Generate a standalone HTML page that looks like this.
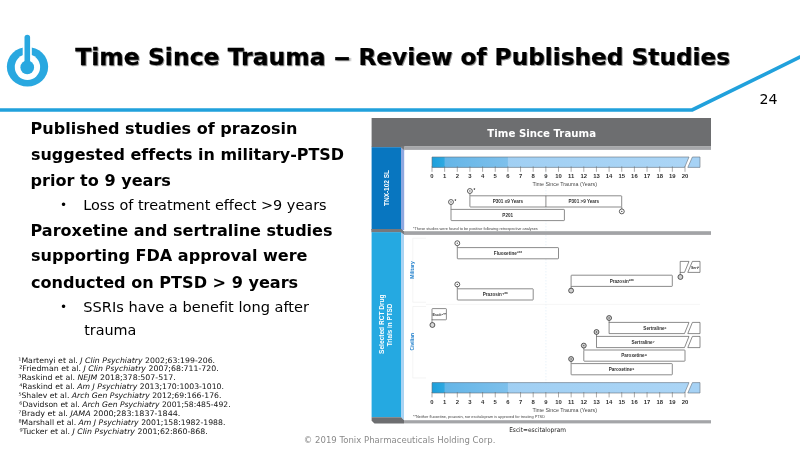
<!DOCTYPE html>
<html lang="en"><head><meta charset="utf-8"><title>Time Since Trauma – Review of Published Studies</title>
<style>html,body{margin:0;padding:0;background:#fff;overflow:hidden}svg{display:block}text{font-variant-ligatures:none;font-kerning:normal}</style></head><body>
<svg width="800" height="450" viewBox="0 0 800 450">
<defs><linearGradient id="g1"><stop offset="0" stop-color="#1C9FDB"/><stop offset="1" stop-color="#2FA9E1"/></linearGradient><linearGradient id="g2"><stop offset="0" stop-color="#5FB3E6"/><stop offset="1" stop-color="#7DC0EC"/></linearGradient><linearGradient id="g3"><stop offset="0" stop-color="#9CCDF2"/><stop offset="1" stop-color="#ABD5F6"/></linearGradient><filter id="sh" x="-5%" y="-20%" width="110%" height="150%"><feDropShadow dx="0.9" dy="0.9" stdDeviation="0.7" flood-color="#000" flood-opacity="0.45"/></filter></defs>
<rect width="800" height="450" fill="#fff"/>
<polyline points="-5,110 692.2,110 820,47.2" fill="none" stroke="#21A1DC" stroke-width="3.7" stroke-linejoin="miter"/>
<g>
<ellipse cx="27.5" cy="66.7" rx="20.65" ry="19.7" fill="#29A8E0"/>
<ellipse cx="27.45" cy="67.1" rx="12.65" ry="12.9" fill="#fff"/>
<rect x="22.7" y="30" width="9.1" height="30" fill="#fff"/>
<line x1="27.3" y1="37.6" x2="27.3" y2="62" stroke="#29A8E0" stroke-width="5.6" stroke-linecap="round"/>
<circle cx="27.25" cy="67.4" r="6.85" fill="#29A8E0"/>
</g>
<line x1="545.9" y1="157" x2="545.9" y2="393" stroke="#d5e6f5" stroke-width="0.5" stroke-dasharray="1.5,1.5"/>
<rect x="371.6" y="118" width="339.4" height="28.4" fill="#6D6E70"/>
<rect x="371.6" y="146" width="32.6" height="1.2" fill="#6D6E70"/>
<rect x="404.2" y="146.2" width="306.8" height="3.7" fill="#A6A7AA"/>
<rect x="371.6" y="147.2" width="29.4" height="83" fill="#0876C0"/>
<polygon points="401,147.2 404.2,150.4 404.2,230 401,230" fill="#8FA8E0"/>
<polygon points="400.8,146 404.2,146 404.2,150.4 400.8,147.2" fill="#77787A"/>
<polygon points="371.6,229 401,229 404,231.5 711,231.5 711,234.6 403,234.6 400,232.2 371.6,232.2" fill="#77787B"/>
<rect x="404" y="231.8" width="307" height="2.8" fill="#A2A3A6"/>
<polygon points="371.6,229 401,229 404,231.5 404,234.6 401,232.2 371.6,232.2" fill="#77787B"/>
<rect x="371.6" y="232.2" width="29.4" height="185" fill="#25A9E1"/>
<polygon points="401,232.2 404,234.6 404,420.2 401,417.2" fill="#A9D3F3"/>
<polygon points="371.6,417.2 401,417.2 404,420.2 404,423.5 374.5,423.5 371.6,420.8" fill="#6D6E70"/>
<rect x="404" y="420.2" width="307" height="3.2" fill="#A4A5A8"/>
<path d="M426,238.2 H412.8 V302.2 H426" fill="none" stroke="#ececec" stroke-width="0.6"/>
<path d="M426,306.5 H412.8 V378 H426" fill="none" stroke="#ececec" stroke-width="0.6"/>
<line x1="426" y1="304.4" x2="700" y2="304.4" stroke="#eeeeee" stroke-width="0.6"/>
<polygon points="432.0,157.0 689.0,157.0 684.6,167.4 432.0,167.4" fill="url(#g3)"/><rect x="432.0" y="157.0" width="75.9" height="10.4" fill="url(#g2)"/><rect x="432.0" y="157.0" width="12.6" height="10.4" fill="url(#g1)"/><polygon points="692.4,157.0 700,157.0 700,167.4 687.8,167.4" fill="#A6D2F5"/><path d="M432.0,157.0 H689 L684.6,167.4 H432.0 Z M692.4,157.0 H700 V167.4 H687.8 Z" fill="none" stroke="#66717a" stroke-width="0.6"/><line x1="432.00" y1="166.4" x2="432.00" y2="171.8" stroke="#707070" stroke-width="0.6"/><line x1="444.65" y1="166.4" x2="444.65" y2="171.8" stroke="#707070" stroke-width="0.6"/><line x1="457.30" y1="166.4" x2="457.30" y2="171.8" stroke="#707070" stroke-width="0.6"/><line x1="469.95" y1="166.4" x2="469.95" y2="171.8" stroke="#707070" stroke-width="0.6"/><line x1="482.60" y1="166.4" x2="482.60" y2="171.8" stroke="#707070" stroke-width="0.6"/><line x1="495.25" y1="166.4" x2="495.25" y2="171.8" stroke="#707070" stroke-width="0.6"/><line x1="507.90" y1="166.4" x2="507.90" y2="171.8" stroke="#707070" stroke-width="0.6"/><line x1="520.55" y1="166.4" x2="520.55" y2="171.8" stroke="#707070" stroke-width="0.6"/><line x1="533.20" y1="166.4" x2="533.20" y2="171.8" stroke="#707070" stroke-width="0.6"/><line x1="545.85" y1="166.4" x2="545.85" y2="171.8" stroke="#707070" stroke-width="0.6"/><line x1="558.50" y1="166.4" x2="558.50" y2="171.8" stroke="#707070" stroke-width="0.6"/><line x1="571.15" y1="166.4" x2="571.15" y2="171.8" stroke="#707070" stroke-width="0.6"/><line x1="583.80" y1="166.4" x2="583.80" y2="171.8" stroke="#707070" stroke-width="0.6"/><line x1="596.45" y1="166.4" x2="596.45" y2="171.8" stroke="#707070" stroke-width="0.6"/><line x1="609.10" y1="166.4" x2="609.10" y2="171.8" stroke="#707070" stroke-width="0.6"/><line x1="621.75" y1="166.4" x2="621.75" y2="171.8" stroke="#707070" stroke-width="0.6"/><line x1="634.40" y1="166.4" x2="634.40" y2="171.8" stroke="#707070" stroke-width="0.6"/><line x1="647.05" y1="166.4" x2="647.05" y2="171.8" stroke="#707070" stroke-width="0.6"/><line x1="659.70" y1="166.4" x2="659.70" y2="171.8" stroke="#707070" stroke-width="0.6"/><line x1="672.35" y1="166.4" x2="672.35" y2="171.8" stroke="#707070" stroke-width="0.6"/><line x1="685.00" y1="166.4" x2="685.00" y2="171.8" stroke="#707070" stroke-width="0.6"/>
<polygon points="432.0,382.6 689.0,382.6 684.6,393.0 432.0,393.0" fill="url(#g3)"/><rect x="432.0" y="382.6" width="75.9" height="10.4" fill="url(#g2)"/><rect x="432.0" y="382.6" width="12.6" height="10.4" fill="url(#g1)"/><polygon points="692.4,382.6 700,382.6 700,393.0 687.8,393.0" fill="#A6D2F5"/><path d="M432.0,382.6 H689 L684.6,393.0 H432.0 Z M692.4,382.6 H700 V393.0 H687.8 Z" fill="none" stroke="#66717a" stroke-width="0.6"/><line x1="432.00" y1="392.0" x2="432.00" y2="397.4" stroke="#707070" stroke-width="0.6"/><line x1="444.65" y1="392.0" x2="444.65" y2="397.4" stroke="#707070" stroke-width="0.6"/><line x1="457.30" y1="392.0" x2="457.30" y2="397.4" stroke="#707070" stroke-width="0.6"/><line x1="469.95" y1="392.0" x2="469.95" y2="397.4" stroke="#707070" stroke-width="0.6"/><line x1="482.60" y1="392.0" x2="482.60" y2="397.4" stroke="#707070" stroke-width="0.6"/><line x1="495.25" y1="392.0" x2="495.25" y2="397.4" stroke="#707070" stroke-width="0.6"/><line x1="507.90" y1="392.0" x2="507.90" y2="397.4" stroke="#707070" stroke-width="0.6"/><line x1="520.55" y1="392.0" x2="520.55" y2="397.4" stroke="#707070" stroke-width="0.6"/><line x1="533.20" y1="392.0" x2="533.20" y2="397.4" stroke="#707070" stroke-width="0.6"/><line x1="545.85" y1="392.0" x2="545.85" y2="397.4" stroke="#707070" stroke-width="0.6"/><line x1="558.50" y1="392.0" x2="558.50" y2="397.4" stroke="#707070" stroke-width="0.6"/><line x1="571.15" y1="392.0" x2="571.15" y2="397.4" stroke="#707070" stroke-width="0.6"/><line x1="583.80" y1="392.0" x2="583.80" y2="397.4" stroke="#707070" stroke-width="0.6"/><line x1="596.45" y1="392.0" x2="596.45" y2="397.4" stroke="#707070" stroke-width="0.6"/><line x1="609.10" y1="392.0" x2="609.10" y2="397.4" stroke="#707070" stroke-width="0.6"/><line x1="621.75" y1="392.0" x2="621.75" y2="397.4" stroke="#707070" stroke-width="0.6"/><line x1="634.40" y1="392.0" x2="634.40" y2="397.4" stroke="#707070" stroke-width="0.6"/><line x1="647.05" y1="392.0" x2="647.05" y2="397.4" stroke="#707070" stroke-width="0.6"/><line x1="659.70" y1="392.0" x2="659.70" y2="397.4" stroke="#707070" stroke-width="0.6"/><line x1="672.35" y1="392.0" x2="672.35" y2="397.4" stroke="#707070" stroke-width="0.6"/><line x1="685.00" y1="392.0" x2="685.00" y2="397.4" stroke="#707070" stroke-width="0.6"/>
<line x1="469.9" y1="193.0" x2="469.9" y2="196.0" stroke="#5a5a5a" stroke-width="0.7"/>
<rect x="469.9" y="195.8" width="151.8" height="11.2" rx="0.6" fill="#fff" stroke="#5a5a5a" stroke-width="0.7"/>
<line x1="545.9" y1="195.8" x2="545.9" y2="207" stroke="#5a5a5a" stroke-width="0.7"/>
<circle cx="469.9" cy="191.0" r="2.45" fill="#ffffff" stroke="#2a2a2a" stroke-width="0.75"/>
<circle cx="469.9" cy="191.0" r="0.65" fill="#444"/>
<line x1="451.0" y1="204.0" x2="451.0" y2="210.0" stroke="#5a5a5a" stroke-width="0.7"/>
<rect x="451.0" y="209.4" width="113.4" height="11.2" rx="0.6" fill="#fff" stroke="#5a5a5a" stroke-width="0.7"/>
<circle cx="451.0" cy="202.0" r="2.45" fill="#ffffff" stroke="#2a2a2a" stroke-width="0.75"/>
<circle cx="451.0" cy="202.0" r="0.65" fill="#444"/>
<line x1="621.8" y1="207.0" x2="621.8" y2="209.5" stroke="#5a5a5a" stroke-width="0.7"/>
<circle cx="621.8" cy="211.4" r="2.45" fill="#ffffff" stroke="#2a2a2a" stroke-width="0.75"/>
<circle cx="621.8" cy="211.4" r="0.65" fill="#444"/>
<line x1="457.3" y1="245.0" x2="457.3" y2="248.0" stroke="#5a5a5a" stroke-width="0.7"/>
<rect x="457.3" y="247.6" width="101.2" height="11.2" rx="0.6" fill="#fff" stroke="#5a5a5a" stroke-width="0.7"/>
<circle cx="457.3" cy="243.2" r="2.45" fill="#ffffff" stroke="#2a2a2a" stroke-width="0.75"/>
<circle cx="457.3" cy="243.2" r="0.65" fill="#444"/>
<line x1="457.3" y1="286.0" x2="457.3" y2="289.0" stroke="#5a5a5a" stroke-width="0.7"/>
<rect x="457.3" y="288.8" width="75.9" height="11.2" rx="0.6" fill="#fff" stroke="#5a5a5a" stroke-width="0.7"/>
<circle cx="457.3" cy="284.4" r="2.45" fill="#ffffff" stroke="#2a2a2a" stroke-width="0.75"/>
<circle cx="457.3" cy="284.4" r="0.65" fill="#444"/>
<rect x="571.1" y="275.2" width="101.2" height="11.2" rx="0.6" fill="#fff" stroke="#5a5a5a" stroke-width="0.7"/>
<line x1="571.1" y1="286.0" x2="571.1" y2="289.0" stroke="#5a5a5a" stroke-width="0.7"/>
<circle cx="571.1" cy="290.6" r="2.45" fill="#d0d0d0" stroke="#2a2a2a" stroke-width="0.75"/>
<path d="M680.2,261.4 H689 L684.5,272.4 H680.2 Z M692.4,261.4 H700 V272.4 H687.8 Z" fill="#fff" stroke="#5a5a5a" stroke-width="0.7"/>
<line x1="680.2" y1="272.0" x2="680.2" y2="275.0" stroke="#5a5a5a" stroke-width="0.7"/>
<circle cx="680.4" cy="277.0" r="2.45" fill="#d0d0d0" stroke="#2a2a2a" stroke-width="0.75"/>
<rect x="432.0" y="308.6" width="14.4" height="11.2" rx="0.6" fill="#fff" stroke="#5a5a5a" stroke-width="0.7"/>
<line x1="432.0" y1="319.0" x2="432.0" y2="323.0" stroke="#5a5a5a" stroke-width="0.7"/>
<circle cx="432.4" cy="325.0" r="2.45" fill="#d9d9d9" stroke="#2a2a2a" stroke-width="0.75"/>
<line x1="609.1" y1="320.0" x2="609.1" y2="323.0" stroke="#5a5a5a" stroke-width="0.7"/>
<path d="M609.1,322.4 H689 L684.5,333.6 H609.1 Z M692.4,322.4 H700 V333.6 H687.8 Z" fill="#fff" stroke="#5a5a5a" stroke-width="0.7"/>
<circle cx="609.1" cy="318.0" r="2.45" fill="#d0d0d0" stroke="#2a2a2a" stroke-width="0.75"/>
<circle cx="609.1" cy="318.0" r="0.65" fill="#444"/>
<line x1="596.5" y1="334.0" x2="596.5" y2="337.0" stroke="#5a5a5a" stroke-width="0.7"/>
<path d="M596.5,336.4 H689 L684.5,347.6 H596.5 Z M692.4,336.4 H700 V347.6 H687.8 Z" fill="#fff" stroke="#5a5a5a" stroke-width="0.7"/>
<circle cx="596.5" cy="332.0" r="2.45" fill="#d0d0d0" stroke="#2a2a2a" stroke-width="0.75"/>
<circle cx="596.5" cy="332.0" r="0.65" fill="#444"/>
<line x1="583.8" y1="347.0" x2="583.8" y2="350.0" stroke="#5a5a5a" stroke-width="0.7"/>
<rect x="583.8" y="350.0" width="101.2" height="11.2" rx="0.6" fill="#fff" stroke="#5a5a5a" stroke-width="0.7"/>
<circle cx="583.8" cy="345.6" r="2.45" fill="#d0d0d0" stroke="#2a2a2a" stroke-width="0.75"/>
<circle cx="583.8" cy="345.6" r="0.65" fill="#444"/>
<line x1="571.1" y1="361.0" x2="571.1" y2="364.0" stroke="#5a5a5a" stroke-width="0.7"/>
<rect x="571.1" y="363.6" width="101.2" height="11.2" rx="0.6" fill="#fff" stroke="#5a5a5a" stroke-width="0.7"/>
<circle cx="571.1" cy="359.0" r="2.45" fill="#d0d0d0" stroke="#2a2a2a" stroke-width="0.75"/>
<circle cx="571.1" cy="359.0" r="0.65" fill="#444"/>
<text id="t0" transform="translate(75.23,64.50) scale(1.0404,1)" font-family='"DejaVu Sans", "Liberation Sans", sans-serif' font-size="22.6" font-weight="bold" fill="#000" text-anchor="start" filter="url(#sh)" stroke="#000" stroke-width="0.25">Time Since Trauma</text>
<text id="t1" transform="translate(333.60,64.50) scale(1.5100,1)" font-family='"DejaVu Sans", "Liberation Sans", sans-serif' font-size="22.6" font-weight="bold" fill="#000" text-anchor="start" filter="url(#sh)" stroke="#000" stroke-width="0.25">–</text>
<text id="t2" transform="translate(358.43,64.50) scale(1.0286,1)" font-family='"DejaVu Sans", "Liberation Sans", sans-serif' font-size="22.6" font-weight="bold" fill="#000" text-anchor="start" filter="url(#sh)" stroke="#000" stroke-width="0.25">Review of Published Studies</text>
<text id="t3" transform="translate(759.52,104.40) scale(1.0108,1)" font-family='"DejaVu Sans", "Liberation Sans", sans-serif' font-size="14" font-weight="normal" fill="#000" text-anchor="start" >24</text>
<text id="t4" transform="translate(30.52,134.20) scale(1.0491,1)" font-family='"DejaVu Sans", "Liberation Sans", sans-serif' font-size="15.3" font-weight="bold" fill="#000" text-anchor="start" >Published studies of prazosin</text>
<text id="t5" transform="translate(30.99,160.20) scale(1.0437,1)" font-family='"DejaVu Sans", "Liberation Sans", sans-serif' font-size="15.3" font-weight="bold" fill="#000" text-anchor="start" >suggested effects in military-PTSD</text>
<text id="t6" transform="translate(30.52,186.10) scale(1.0519,1)" font-family='"DejaVu Sans", "Liberation Sans", sans-serif' font-size="15.3" font-weight="bold" fill="#000" text-anchor="start" >prior to 9 years</text>
<text id="t7" transform="translate(59.96,209.00)" font-family='"DejaVu Sans", "Liberation Sans", sans-serif' font-size="12" font-weight="normal" fill="#000" text-anchor="start" >•</text>
<text id="t8" transform="translate(83.13,210.10) scale(1.0041,1)" font-family='"DejaVu Sans", "Liberation Sans", sans-serif' font-size="14.4" font-weight="normal" fill="#000" text-anchor="start" >Loss of treatment effect &gt;9 years</text>
<text id="t9" transform="translate(30.52,235.60) scale(1.0485,1)" font-family='"DejaVu Sans", "Liberation Sans", sans-serif' font-size="15.3" font-weight="bold" fill="#000" text-anchor="start" >Paroxetine and sertraline studies</text>
<text id="t10" transform="translate(30.99,261.30) scale(1.0501,1)" font-family='"DejaVu Sans", "Liberation Sans", sans-serif' font-size="15.3" font-weight="bold" fill="#000" text-anchor="start" >supporting FDA approval were</text>
<text id="t11" transform="translate(30.99,287.50) scale(1.0521,1)" font-family='"DejaVu Sans", "Liberation Sans", sans-serif' font-size="15.3" font-weight="bold" fill="#000" text-anchor="start" >conducted on PTSD &gt; 9 years</text>
<text id="t12" transform="translate(59.96,311.00)" font-family='"DejaVu Sans", "Liberation Sans", sans-serif' font-size="12" font-weight="normal" fill="#000" text-anchor="start" >•</text>
<text id="t13" transform="translate(83.27,311.70) scale(1.0137,1)" font-family='"DejaVu Sans", "Liberation Sans", sans-serif' font-size="14.4" font-weight="normal" fill="#000" text-anchor="start" >SSRIs have a benefit long after</text>
<text id="t14" transform="translate(84.15,334.70) scale(0.9973,1)" font-family='"DejaVu Sans", "Liberation Sans", sans-serif' font-size="14.4" font-weight="normal" fill="#000" text-anchor="start" >trauma</text>
<text id="t15" transform="translate(18.27,362.50) scale(1.0261,1)" font-family='"DejaVu Sans", "Liberation Sans", sans-serif' font-size="7.6" font-weight="normal" fill="#111" text-anchor="start" >¹Martenyi et al. <tspan font-style="italic">J Clin Psychiatry</tspan> 2002;63:199-206.</text>
<text id="t16" transform="translate(19.14,371.44) scale(1.0289,1)" font-family='"DejaVu Sans", "Liberation Sans", sans-serif' font-size="7.6" font-weight="normal" fill="#111" text-anchor="start" >²Friedman et al. <tspan font-style="italic">J Clin Psychiatry</tspan> 2007;68:711-720.</text>
<text id="t17" transform="translate(18.34,380.38) scale(1.0371,1)" font-family='"DejaVu Sans", "Liberation Sans", sans-serif' font-size="7.6" font-weight="normal" fill="#111" text-anchor="start" >³Raskind et al. <tspan font-style="italic">NEJM</tspan> 2018;378:507-517.</text>
<text id="t18" transform="translate(19.25,389.32) scale(1.0186,1)" font-family='"DejaVu Sans", "Liberation Sans", sans-serif' font-size="7.6" font-weight="normal" fill="#111" text-anchor="start" >⁴Raskind et al. <tspan font-style="italic">Am J Psychiatry</tspan> 2013;170:1003-1010.</text>
<text id="t19" transform="translate(18.40,398.26) scale(1.0152,1)" font-family='"DejaVu Sans", "Liberation Sans", sans-serif' font-size="7.6" font-weight="normal" fill="#111" text-anchor="start" >⁵Shalev et al. <tspan font-style="italic">Arch Gen Psychiatry</tspan> 2012;69:166-176.</text>
<text id="t20" transform="translate(19.34,407.20) scale(1.0078,1)" font-family='"DejaVu Sans", "Liberation Sans", sans-serif' font-size="7.6" font-weight="normal" fill="#111" text-anchor="start" >⁶Davidson et al. <tspan font-style="italic">Arch Gen Psychiatry</tspan> 2001;58:485-492.</text>
<text id="t21" transform="translate(18.36,416.14) scale(1.0552,1)" font-family='"DejaVu Sans", "Liberation Sans", sans-serif' font-size="7.6" font-weight="normal" fill="#111" text-anchor="start" >⁷Brady et al. <tspan font-style="italic">JAMA</tspan> 2000;283:1837-1844.</text>
<text id="t22" transform="translate(18.41,425.08) scale(1.0196,1)" font-family='"DejaVu Sans", "Liberation Sans", sans-serif' font-size="7.6" font-weight="normal" fill="#111" text-anchor="start" >⁸Marshall et al. <tspan font-style="italic">Am J Psychiatry</tspan> 2001;158:1982-1988.</text>
<text id="t23" transform="translate(19.42,434.02) scale(1.0298,1)" font-family='"DejaVu Sans", "Liberation Sans", sans-serif' font-size="7.6" font-weight="normal" fill="#111" text-anchor="start" >⁹Tucker et al. <tspan font-style="italic">J Clin Psychiatry</tspan> 2001;62:860-868.</text>
<text id="t24" transform="translate(303.76,442.80) scale(1.0167,1)" font-family='"DejaVu Sans", "Liberation Sans", sans-serif' font-size="8.4" font-weight="normal" fill="#8a8a8a" text-anchor="start" >© 2019 Tonix Pharmaceuticals Holding Corp.</text>
<text id="t25" transform="translate(509.15,432.40) scale(0.9170,1)" font-family='"DejaVu Sans", "Liberation Sans", sans-serif' font-size="6.4" font-weight="normal" fill="#1a1a1a" text-anchor="start" >Escit=escitalopram</text>
<text id="t26" transform="translate(432.00,177.70)" font-family='"Liberation Sans", "DejaVu Sans", sans-serif' font-size="5.9" font-weight="bold" fill="#303030" text-anchor="middle" >0</text>
<text id="t27" transform="translate(444.65,177.70)" font-family='"Liberation Sans", "DejaVu Sans", sans-serif' font-size="5.9" font-weight="bold" fill="#303030" text-anchor="middle" >1</text>
<text id="t28" transform="translate(457.30,177.70)" font-family='"Liberation Sans", "DejaVu Sans", sans-serif' font-size="5.9" font-weight="bold" fill="#303030" text-anchor="middle" >2</text>
<text id="t29" transform="translate(469.95,177.70)" font-family='"Liberation Sans", "DejaVu Sans", sans-serif' font-size="5.9" font-weight="bold" fill="#303030" text-anchor="middle" >3</text>
<text id="t30" transform="translate(482.60,177.70)" font-family='"Liberation Sans", "DejaVu Sans", sans-serif' font-size="5.9" font-weight="bold" fill="#303030" text-anchor="middle" >4</text>
<text id="t31" transform="translate(495.25,177.70)" font-family='"Liberation Sans", "DejaVu Sans", sans-serif' font-size="5.9" font-weight="bold" fill="#303030" text-anchor="middle" >5</text>
<text id="t32" transform="translate(507.90,177.70)" font-family='"Liberation Sans", "DejaVu Sans", sans-serif' font-size="5.9" font-weight="bold" fill="#303030" text-anchor="middle" >6</text>
<text id="t33" transform="translate(520.55,177.70)" font-family='"Liberation Sans", "DejaVu Sans", sans-serif' font-size="5.9" font-weight="bold" fill="#303030" text-anchor="middle" >7</text>
<text id="t34" transform="translate(533.20,177.70)" font-family='"Liberation Sans", "DejaVu Sans", sans-serif' font-size="5.9" font-weight="bold" fill="#303030" text-anchor="middle" >8</text>
<text id="t35" transform="translate(545.85,177.70)" font-family='"Liberation Sans", "DejaVu Sans", sans-serif' font-size="5.9" font-weight="bold" fill="#303030" text-anchor="middle" >9</text>
<text id="t36" transform="translate(558.50,177.70)" font-family='"Liberation Sans", "DejaVu Sans", sans-serif' font-size="5.9" font-weight="bold" fill="#303030" text-anchor="middle" >10</text>
<text id="t37" transform="translate(571.15,177.70)" font-family='"Liberation Sans", "DejaVu Sans", sans-serif' font-size="5.9" font-weight="bold" fill="#303030" text-anchor="middle" >11</text>
<text id="t38" transform="translate(583.80,177.70)" font-family='"Liberation Sans", "DejaVu Sans", sans-serif' font-size="5.9" font-weight="bold" fill="#303030" text-anchor="middle" >12</text>
<text id="t39" transform="translate(596.45,177.70)" font-family='"Liberation Sans", "DejaVu Sans", sans-serif' font-size="5.9" font-weight="bold" fill="#303030" text-anchor="middle" >13</text>
<text id="t40" transform="translate(609.10,177.70)" font-family='"Liberation Sans", "DejaVu Sans", sans-serif' font-size="5.9" font-weight="bold" fill="#303030" text-anchor="middle" >14</text>
<text id="t41" transform="translate(621.75,177.70)" font-family='"Liberation Sans", "DejaVu Sans", sans-serif' font-size="5.9" font-weight="bold" fill="#303030" text-anchor="middle" >15</text>
<text id="t42" transform="translate(634.40,177.70)" font-family='"Liberation Sans", "DejaVu Sans", sans-serif' font-size="5.9" font-weight="bold" fill="#303030" text-anchor="middle" >16</text>
<text id="t43" transform="translate(647.05,177.70)" font-family='"Liberation Sans", "DejaVu Sans", sans-serif' font-size="5.9" font-weight="bold" fill="#303030" text-anchor="middle" >17</text>
<text id="t44" transform="translate(659.70,177.70)" font-family='"Liberation Sans", "DejaVu Sans", sans-serif' font-size="5.9" font-weight="bold" fill="#303030" text-anchor="middle" >18</text>
<text id="t45" transform="translate(672.35,177.70)" font-family='"Liberation Sans", "DejaVu Sans", sans-serif' font-size="5.9" font-weight="bold" fill="#303030" text-anchor="middle" >19</text>
<text id="t46" transform="translate(685.00,177.70)" font-family='"Liberation Sans", "DejaVu Sans", sans-serif' font-size="5.9" font-weight="bold" fill="#303030" text-anchor="middle" >20</text>
<text id="t47" transform="translate(532.40,185.70) scale(1.0081,1)" font-family='"Liberation Sans", "DejaVu Sans", sans-serif' font-size="5.3" font-weight="normal" fill="#484848" text-anchor="start" >Time Since Trauma (Years)</text>
<text id="t48" transform="translate(432.00,403.70)" font-family='"Liberation Sans", "DejaVu Sans", sans-serif' font-size="5.9" font-weight="bold" fill="#303030" text-anchor="middle" >0</text>
<text id="t49" transform="translate(444.65,403.70)" font-family='"Liberation Sans", "DejaVu Sans", sans-serif' font-size="5.9" font-weight="bold" fill="#303030" text-anchor="middle" >1</text>
<text id="t50" transform="translate(457.30,403.70)" font-family='"Liberation Sans", "DejaVu Sans", sans-serif' font-size="5.9" font-weight="bold" fill="#303030" text-anchor="middle" >2</text>
<text id="t51" transform="translate(469.95,403.70)" font-family='"Liberation Sans", "DejaVu Sans", sans-serif' font-size="5.9" font-weight="bold" fill="#303030" text-anchor="middle" >3</text>
<text id="t52" transform="translate(482.60,403.70)" font-family='"Liberation Sans", "DejaVu Sans", sans-serif' font-size="5.9" font-weight="bold" fill="#303030" text-anchor="middle" >4</text>
<text id="t53" transform="translate(495.25,403.70)" font-family='"Liberation Sans", "DejaVu Sans", sans-serif' font-size="5.9" font-weight="bold" fill="#303030" text-anchor="middle" >5</text>
<text id="t54" transform="translate(507.90,403.70)" font-family='"Liberation Sans", "DejaVu Sans", sans-serif' font-size="5.9" font-weight="bold" fill="#303030" text-anchor="middle" >6</text>
<text id="t55" transform="translate(520.55,403.70)" font-family='"Liberation Sans", "DejaVu Sans", sans-serif' font-size="5.9" font-weight="bold" fill="#303030" text-anchor="middle" >7</text>
<text id="t56" transform="translate(533.20,403.70)" font-family='"Liberation Sans", "DejaVu Sans", sans-serif' font-size="5.9" font-weight="bold" fill="#303030" text-anchor="middle" >8</text>
<text id="t57" transform="translate(545.85,403.70)" font-family='"Liberation Sans", "DejaVu Sans", sans-serif' font-size="5.9" font-weight="bold" fill="#303030" text-anchor="middle" >9</text>
<text id="t58" transform="translate(558.50,403.70)" font-family='"Liberation Sans", "DejaVu Sans", sans-serif' font-size="5.9" font-weight="bold" fill="#303030" text-anchor="middle" >10</text>
<text id="t59" transform="translate(571.15,403.70)" font-family='"Liberation Sans", "DejaVu Sans", sans-serif' font-size="5.9" font-weight="bold" fill="#303030" text-anchor="middle" >11</text>
<text id="t60" transform="translate(583.80,403.70)" font-family='"Liberation Sans", "DejaVu Sans", sans-serif' font-size="5.9" font-weight="bold" fill="#303030" text-anchor="middle" >12</text>
<text id="t61" transform="translate(596.45,403.70)" font-family='"Liberation Sans", "DejaVu Sans", sans-serif' font-size="5.9" font-weight="bold" fill="#303030" text-anchor="middle" >13</text>
<text id="t62" transform="translate(609.10,403.70)" font-family='"Liberation Sans", "DejaVu Sans", sans-serif' font-size="5.9" font-weight="bold" fill="#303030" text-anchor="middle" >14</text>
<text id="t63" transform="translate(621.75,403.70)" font-family='"Liberation Sans", "DejaVu Sans", sans-serif' font-size="5.9" font-weight="bold" fill="#303030" text-anchor="middle" >15</text>
<text id="t64" transform="translate(634.40,403.70)" font-family='"Liberation Sans", "DejaVu Sans", sans-serif' font-size="5.9" font-weight="bold" fill="#303030" text-anchor="middle" >16</text>
<text id="t65" transform="translate(647.05,403.70)" font-family='"Liberation Sans", "DejaVu Sans", sans-serif' font-size="5.9" font-weight="bold" fill="#303030" text-anchor="middle" >17</text>
<text id="t66" transform="translate(659.70,403.70)" font-family='"Liberation Sans", "DejaVu Sans", sans-serif' font-size="5.9" font-weight="bold" fill="#303030" text-anchor="middle" >18</text>
<text id="t67" transform="translate(672.35,403.70)" font-family='"Liberation Sans", "DejaVu Sans", sans-serif' font-size="5.9" font-weight="bold" fill="#303030" text-anchor="middle" >19</text>
<text id="t68" transform="translate(685.00,403.70)" font-family='"Liberation Sans", "DejaVu Sans", sans-serif' font-size="5.9" font-weight="bold" fill="#303030" text-anchor="middle" >20</text>
<text id="t69" transform="translate(532.40,411.50) scale(1.0081,1)" font-family='"Liberation Sans", "DejaVu Sans", sans-serif' font-size="5.3" font-weight="normal" fill="#484848" text-anchor="start" >Time Since Trauma (Years)</text>
<text id="t70" transform="translate(507.90,203.20)" font-family='"Liberation Sans", "DejaVu Sans", sans-serif' font-size="4.6" font-weight="bold" fill="#333" text-anchor="middle" >P301 ≤9 Years</text>
<text id="t71" transform="translate(583.80,203.20)" font-family='"Liberation Sans", "DejaVu Sans", sans-serif' font-size="4.6" font-weight="bold" fill="#333" text-anchor="middle" >P301 &gt;9 Years</text>
<text id="t72" transform="translate(473.55,191.50)" font-family='"Liberation Sans", "DejaVu Sans", sans-serif' font-size="4.5" font-weight="bold" fill="#333" text-anchor="start" >*</text>
<text id="t73" transform="translate(507.69,216.70)" font-family='"Liberation Sans", "DejaVu Sans", sans-serif' font-size="4.6" font-weight="bold" fill="#333" text-anchor="middle" >P201</text>
<text id="t74" transform="translate(454.58,202.50)" font-family='"Liberation Sans", "DejaVu Sans", sans-serif' font-size="4.5" font-weight="bold" fill="#333" text-anchor="start" >*</text>
<text id="t75" transform="translate(413.00,229.90) scale(1.1375,1)" font-family='"Liberation Sans", "DejaVu Sans", sans-serif' font-size="3.4" font-weight="normal" fill="#444" text-anchor="start" >*These studies were found to be positive following retrospective analyses</text>
<text id="t76" transform="translate(507.90,254.90)" font-family='"Liberation Sans", "DejaVu Sans", sans-serif' font-size="4.6" font-weight="bold" fill="#333" text-anchor="middle" >Fluoxetine¹**</text>
<text id="t77" transform="translate(495.25,296.10)" font-family='"Liberation Sans", "DejaVu Sans", sans-serif' font-size="4.6" font-weight="bold" fill="#333" text-anchor="middle" >Prazosin⁴**</text>
<text id="t78" transform="translate(621.75,282.50)" font-family='"Liberation Sans", "DejaVu Sans", sans-serif' font-size="4.6" font-weight="bold" fill="#333" text-anchor="middle" >Prazosin³**</text>
<text id="t79" transform="translate(695.00,268.60)" font-family='"Liberation Sans", "DejaVu Sans", sans-serif' font-size="3.6" font-weight="bold" fill="#333" text-anchor="middle" >Sert²</text>
<text id="t80" transform="translate(439.30,315.70)" font-family='"Liberation Sans", "DejaVu Sans", sans-serif' font-size="3.7" font-weight="bold" fill="#333" text-anchor="middle" >Escit⁵**</text>
<text id="t81" transform="translate(655.00,329.70)" font-family='"Liberation Sans", "DejaVu Sans", sans-serif' font-size="4.6" font-weight="bold" fill="#333" text-anchor="middle" >Sertraline⁶</text>
<text id="t82" transform="translate(643.00,343.70)" font-family='"Liberation Sans", "DejaVu Sans", sans-serif' font-size="4.6" font-weight="bold" fill="#333" text-anchor="middle" >Sertraline⁷</text>
<text id="t83" transform="translate(634.00,357.30)" font-family='"Liberation Sans", "DejaVu Sans", sans-serif' font-size="4.6" font-weight="bold" fill="#333" text-anchor="middle" >Paroxetine⁸</text>
<text id="t84" transform="translate(621.50,370.90)" font-family='"Liberation Sans", "DejaVu Sans", sans-serif' font-size="4.6" font-weight="bold" fill="#333" text-anchor="middle" >Paroxetine⁹</text>
<text id="t85" transform="translate(413.00,417.50) scale(1.1352,1)" font-family='"Liberation Sans", "DejaVu Sans", sans-serif' font-size="3.4" font-weight="normal" fill="#444" text-anchor="start" >**Neither fluoxetine, prazosin, nor escitalopram is approved for treating PTSD</text>
<text id="t86" transform="translate(487.34,136.70) scale(0.9814,1)" font-family='"DejaVu Sans", "Liberation Sans", sans-serif' font-size="10.4" font-weight="bold" fill="#fff" text-anchor="start" >Time Since Trauma</text>
<text id="r0" transform="translate(388.60,188.00) rotate(-90) scale(0.9821,1)" font-family='"Liberation Sans", "DejaVu Sans", sans-serif' font-size="6.6" font-weight="bold" fill="#fff" text-anchor="middle">TNX-102 SL</text>
<text id="r1" transform="translate(384.10,324.20) rotate(-90) scale(0.9548,1)" font-family='"Liberation Sans", "DejaVu Sans", sans-serif' font-size="6.9" font-weight="bold" fill="#fff" text-anchor="middle">Selected RCT Drug</text>
<text id="r2" transform="translate(392.10,325.00) rotate(-90) scale(0.9235,1)" font-family='"Liberation Sans", "DejaVu Sans", sans-serif' font-size="6.9" font-weight="bold" fill="#fff" text-anchor="middle">Trials in PTSD</text>
<text id="r3" transform="translate(414.00,270.00) rotate(-90) scale(1.0478,1)" font-family='"Liberation Sans", "DejaVu Sans", sans-serif' font-size="4.8" font-weight="bold" fill="#2482CE" text-anchor="middle">Military</text>
<text id="r4" transform="translate(414.00,341.70) rotate(-90) scale(1.0198,1)" font-family='"Liberation Sans", "DejaVu Sans", sans-serif' font-size="4.8" font-weight="bold" fill="#2482CE" text-anchor="middle">Civilian</text>
</svg>
</body></html>
